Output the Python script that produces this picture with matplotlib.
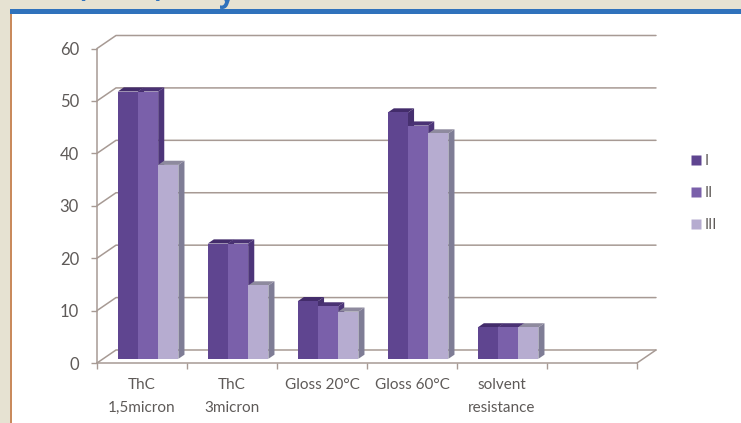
import matplotlib
matplotlib.use("Agg")
import matplotlib.pyplot as plt
from matplotlib.patches import Polygon, Rectangle
from matplotlib.lines import Line2D

categories = ["ThC\n1,5micron", "ThC\n3micron", "Gloss 20°C", "Gloss 60°C", "solvent\nresistance"]
series_I = [51, 22, 11, 47, 6]
series_II = [51, 22, 10, 44.5, 6]
series_III = [37, 14, 9, 43, 6]
series_names = ["I", "II", "III"]
y_ticks = [0, 10, 20, 30, 40, 50, 60]

W, H = 741, 423
plt.rcParams["font.family"] = ["Lato", "DejaVu Sans"]
TXT = "#5e5a58"
LINE = "#a79a94"
front = ["#5f4590", "#7a60aa", "#b6acd0"]
side = ["#46306f", "#4d3579", "#7f7d96"]
cap = ["#432c6b", "#4a3274", "#8e8a9e"]

fig = plt.figure(figsize=(W / 100, H / 100), dpi=100, facecolor="#e6e2d2")
# page furniture
for rect, col in [((10 / W, 0, 1, 1 - 14 / H), "white"),
                  ((10 / W, 1 - 14 / H, 1, 5 / H), "#2f72bc"),
                  ((10 / W, 0, 1.5 / W, 1 - 14 / H), "#c98a5c")]:
    fig.patches.append(Rectangle(rect[:2], rect[2], rect[3], transform=fig.transFigure,
                                 fc=col, ec="none", zorder=-5))
for s, px, base in [("(", 82, -3), (")", 159, -3), ("y", 227, 2)]:
    fig.text(px / W, 1 - base / H, s, color="#2f72bc", fontsize=20, fontweight="bold",
             ha="center", va="baseline", family=["Open Sans", "DejaVu Sans"], zorder=-4)

ax = fig.add_axes([97 / W, 1 - 363 / H, 540 / W, 314.5 / H])
ax.set_xlim(0, 6)
ax.set_ylim(0, 60)
ax.patch.set_alpha(0)

DX = 19 / 90      # wall depth, category units
DY = 13 / 5.24    # wall depth, value units


def proj(x, v, d):
    return x + d * DX, v + d * DY


kw = dict(color=LINE, lw=1.1, clip_on=False, solid_capstyle="round", zorder=1)
for v in y_ticks:
    x0, y0 = proj(0, v, 1)
    x1, y1 = proj(6, v, 1)
    ax.plot([0, x0, x1], [v, y0, y1], **kw)
xr, yr = proj(6, 0, 1)
ax.plot([6, xr], [0, yr], **kw)

D0, D1 = 0.32, 0.64
BW = 0.2245
for i, vals in enumerate(zip(series_I, series_II, series_III)):
    for j, v in enumerate(vals):
        xl = i + 0.5 + (j - 1.5) * BW
        xh = xl + BW
        quad_side = [proj(xh, 0, D0), proj(xh, 0, D1), proj(xh, v, D1), proj(xh, v, D0)]
        quad_cap = [proj(xl, v, D0), proj(xl, v, D1), proj(xh, v, D1), proj(xh, v, D0)]
        quad_front = [proj(xl, 0, D0), proj(xh, 0, D0), proj(xh, v, D0), proj(xl, v, D0)]
        z = 3 + j
        ax.add_patch(Polygon(quad_side, fc=side[j], ec="none", clip_on=False, zorder=z))
        ax.add_patch(Polygon(quad_cap, fc=cap[j], ec="none", clip_on=False, zorder=z))
        ax.add_patch(Polygon(quad_front, fc=front[j], ec="none", clip_on=False, zorder=z))

for name in ("top", "right"):
    ax.spines[name].set_visible(False)
for name in ("left", "bottom"):
    ax.spines[name].set_color(LINE)
    ax.spines[name].set_linewidth(1.1)
ax.set_yticks(y_ticks)
ax.set_xticks(range(7))
ax.set_xticklabels([])
ax.set_xticks([i + 0.5 for i in range(len(categories))], minor=True)
ax.set_xticklabels(categories, minor=True)
ax.tick_params(axis="x", which="minor", length=0, pad=11, labelsize=11, labelcolor=TXT)
ax.tick_params(axis="x", which="major", length=4, direction="out", color=LINE, width=1)
ax.tick_params(axis="y", length=4, color=LINE, width=1, labelsize=12, labelcolor=TXT, pad=9)
for lab in ax.get_xticklabels(minor=True):
    lab.set_linespacing(1.75)

handles = [Line2D([], [], ls="none", marker="s", ms=6.5, mfc=c, mec="none") for c in front]
fig.legend(handles, series_names, loc="center left", bbox_to_anchor=(681 / W, 1 - 193 / H),
           frameon=False, fontsize=10.5, labelcolor=TXT, labelspacing=1.24,
           handlelength=1.0, handletextpad=0.1, borderpad=0)

fig.savefig("out.png", dpi=100, facecolor=fig.get_facecolor())
